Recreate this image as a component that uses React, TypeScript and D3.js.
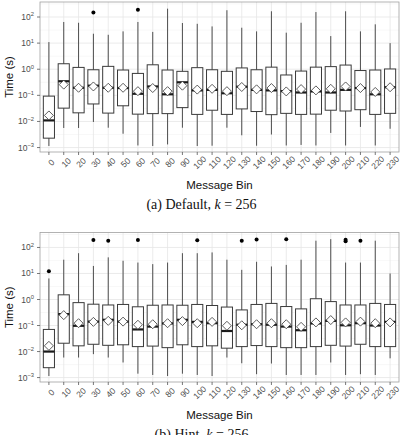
import { useEffect, useRef } from 'react'
import * as d3 from 'd3'

const bins = ['0', '10', '20', '30', '40', '50', '60', '70', '80', '90', '100', '110',
  '120', '130', '140', '150', '160', '170', '180', '190', '200', '210', '220', '230']

// all values are log10(time in s)
const defLow = [-2.94, -2.25, -2.25, -2.02, -2.24, -2.47, -2.92, -2.94, -2.88, -2.24, -2.94, -2.93, -2.24, -2.53, -2.93, -2.5, -2.92, -2.9, -2.92, -2.44, -2.92, -2.21, -2.92, -2.28]
const defQ1 = [-2.64, -1.49, -1.67, -1.33, -1.68, -1.4, -1.72, -1.7, -1.7, -1.47, -1.73, -1.57, -1.73, -1.52, -1.62, -1.74, -1.69, -1.73, -1.72, -1.57, -1.6, -1.55, -1.73, -1.69]
const defMedian = [-1.96, -0.46, -0.71, -0.63, -0.71, -0.72, -0.94, -0.66, -0.96, -0.5, -0.81, -0.79, -0.92, -0.67, -0.79, -0.81, -0.84, -0.89, -0.85, -0.89, -0.79, -0.72, -0.96, -0.69]
const defQ3 = [-1.03, 0.21, 0.07, -0.02, 0.11, -0.03, -0.16, 0.17, -0.03, -0.08, 0.06, -0.02, -0.08, 0.05, -0.02, 0.08, -0.22, -0.07, 0.08, 0.1, 0.16, -0.05, -0.03, 0.01]
const defHigh = [1.04, 1.81, 1.78, 1.36, 1.32, 1.45, 1.81, 1.43, 2.32, 1.77, 1.74, 1.64, 2.26, 1.59, 1.45, 2.22, 1.4, 1.78, 2.19, 1.27, 2.22, 1.45, 1.72, 1.0]
const defMean = [-1.77, -0.59, -0.71, -0.66, -0.71, -0.71, -0.84, -0.72, -0.84, -0.63, -0.78, -0.75, -0.84, -0.68, -0.77, -0.72, -0.85, -0.76, -0.81, -0.75, -0.66, -0.72, -0.87, -0.69]
const defOutliers = [{ bin: '30', v: 2.17 }, { bin: '60', v: 2.28 }]

const hintLow = [-2.94, -2.23, -2.23, -2.1, -2.23, -2.42, -2.85, -2.9, -2.94, -2.85, -2.9, -2.94, -2.23, -2.45, -2.87, -2.46, -2.9, -2.9, -2.9, -2.42, -2.9, -2.87, -2.9, -2.26]
const hintQ1 = [-2.62, -1.68, -1.78, -1.72, -1.76, -1.74, -1.81, -1.79, -1.85, -1.74, -1.81, -1.78, -1.87, -1.81, -1.77, -1.81, -1.85, -1.85, -1.81, -1.76, -1.79, -1.72, -1.81, -1.81]
const hintMedian = [-2.0, -0.56, -1.01, -0.85, -0.78, -0.85, -1.15, -1.04, -0.92, -0.78, -0.86, -0.91, -1.21, -0.97, -0.95, -0.97, -1.04, -1.18, -0.92, -0.82, -0.99, -0.91, -1.0, -0.86]
const hintQ3 = [-1.15, 0.18, -0.12, -0.18, -0.21, -0.19, -0.28, -0.22, -0.21, -0.22, -0.19, -0.23, -0.29, -0.4, -0.19, -0.15, -0.27, -0.36, 0.03, -0.08, -0.21, -0.21, -0.15, -0.19]
const hintHigh = [0.81, 1.53, 1.78, 1.29, 1.62, 1.49, 1.42, 1.36, 1.42, 1.78, 1.78, 1.81, 1.53, 1.14, 1.45, 1.27, 1.33, 1.53, 2.26, 2.32, 1.42, 1.42, 2.26, 1.0]
const hintMean = [-1.78, -0.6, -0.91, -0.86, -0.82, -0.85, -0.97, -0.95, -0.91, -0.83, -0.91, -0.86, -1.01, -0.99, -0.95, -0.91, -0.95, -1.05, -0.88, -0.79, -0.88, -0.85, -0.91, -0.88]
const hintOutliers = [
  { bin: '0', v: 1.09 }, { bin: '30', v: 2.29 }, { bin: '40', v: 2.26 }, { bin: '60', v: 2.29 },
  { bin: '100', v: 2.28 }, { bin: '130', v: 2.26 }, { bin: '140', v: 2.31 }, { bin: '160', v: 2.32 },
  { bin: '200', v: 2.3 }, { bin: '200', v: 2.24 }, { bin: '210', v: 2.26 },
]

const yExponents = [-3, -2, -1, 0, 1, 2]

const sans = '"Liberation Sans", Arial, Helvetica, sans-serif'
const serif = '"Liberation Serif", "Times New Roman", serif'

type Panel = {
  low: number[]; q1: number[]; median: number[]; q3: number[]; high: number[]; mean: number[]
  outliers: { bin: string; v: number }[]
  letter: string; name: string; top: number; bottom: number
}

const panels: Panel[] = [
  { low: defLow, q1: defQ1, median: defMedian, q3: defQ3, high: defHigh, mean: defMean,
    outliers: defOutliers, letter: '(a)', name: 'Default', top: 2, bottom: 152 },
  { low: hintLow, q1: hintQ1, median: hintMedian, q3: hintQ3, high: hintHigh, mean: hintMean,
    outliers: hintOutliers, letter: '(b)', name: 'Hint', top: 232.5, bottom: 382 },
]

const left = 40
const right = 399
const p10 = (e: number) => Math.pow(10, e)

function drawPanel(svg: d3.Selection<SVGSVGElement, unknown, null, undefined>, p: Panel) {
  const x = d3.scalePoint().domain(bins).range([left, right]).padding(0.6)
  const y = d3.scaleLog().domain([p10(-3.17), p10(2.575)]).range([p.bottom, p.top])
  const bw = x.step() * 0.75
  const g = svg.append('g')

  // grid
  g.append('rect')
    .attr('x', left).attr('y', p.top).attr('width', right - left).attr('height', p.bottom - p.top)
    .attr('fill', '#fff')
  g.append('g').selectAll('line')
    .data([-2.5, -1.5, -0.5, 0.5, 1.5, 2.5])
    .join('line')
    .attr('x1', left).attr('x2', right)
    .attr('y1', (e) => y(p10(e))).attr('y2', (e) => y(p10(e)))
    .attr('stroke', '#f3f3f3').attr('stroke-width', 0.6)
  g.append('g').selectAll('line')
    .data(yExponents)
    .join('line')
    .attr('x1', left).attr('x2', right)
    .attr('y1', (e) => y(p10(e))).attr('y2', (e) => y(p10(e)))
    .attr('stroke', '#e6e6e6').attr('stroke-width', 0.8)
  g.append('g').selectAll('line')
    .data(bins)
    .join('line')
    .attr('x1', (b) => x(b)!).attr('x2', (b) => x(b)!)
    .attr('y1', p.top).attr('y2', p.bottom)
    .attr('stroke', '#e6e6e6').attr('stroke-width', 0.8)

  const idx = bins.map((_, i) => i)

  // whiskers
  g.append('g').selectAll('line')
    .data(idx)
    .join('line')
    .attr('x1', (i) => x(bins[i])!).attr('x2', (i) => x(bins[i])!)
    .attr('y1', (i) => y(p10(p.low[i]))).attr('y2', (i) => y(p10(p.high[i])))
    .attr('stroke', '#4d4d4d').attr('stroke-width', 1)

  // boxes
  g.append('g').selectAll('rect')
    .data(idx)
    .join('rect')
    .attr('x', (i) => x(bins[i])! - bw / 2)
    .attr('y', (i) => y(p10(p.q3[i])))
    .attr('width', bw)
    .attr('height', (i) => y(p10(p.q1[i])) - y(p10(p.q3[i])))
    .attr('fill', '#fff').attr('stroke', '#3a3a3a').attr('stroke-width', 1)

  // medians
  g.append('g').selectAll('line')
    .data(idx)
    .join('line')
    .attr('x1', (i) => x(bins[i])! - bw / 2).attr('x2', (i) => x(bins[i])! + bw / 2)
    .attr('y1', (i) => y(p10(p.median[i]))).attr('y2', (i) => y(p10(p.median[i])))
    .attr('stroke', '#1a1a1a').attr('stroke-width', 2.2)

  // outliers
  g.append('g').selectAll('circle')
    .data(p.outliers)
    .join('circle')
    .attr('cx', (d) => x(d.bin)!).attr('cy', (d) => y(p10(d.v)))
    .attr('r', 2).attr('fill', '#000')

  // means
  const r = 4.5
  g.append('g').selectAll('path')
    .data(idx)
    .join('path')
    .attr('d', (i) => {
      const cx = x(bins[i])!
      const cy = y(p10(p.mean[i]))
      return `M${cx},${cy - r}L${cx + r},${cy}L${cx},${cy + r}L${cx - r},${cy}Z`
    })
    .attr('fill', '#fff').attr('stroke', '#333').attr('stroke-width', 0.8)

  // border
  g.append('rect')
    .attr('x', left).attr('y', p.top).attr('width', right - left).attr('height', p.bottom - p.top)
    .attr('fill', 'none').attr('stroke', '#a0a0a0').attr('stroke-width', 0.8)

  // y axis
  const yt = g.append('g')
  yt.selectAll('line')
    .data(yExponents)
    .join('line')
    .attr('x1', left - 3).attr('x2', left)
    .attr('y1', (e) => y(p10(e))).attr('y2', (e) => y(p10(e)))
    .attr('stroke', '#555').attr('stroke-width', 0.8)
  const labels = yt.selectAll('text')
    .data(yExponents)
    .join('text')
    .attr('x', left - 6).attr('y', (e) => y(p10(e)) + 3)
    .attr('text-anchor', 'end')
    .style('font-family', sans).style('fill', '#4d4d4d')
  labels.append('tspan').style('font-size', '8.5px').text('10')
  labels.append('tspan').style('font-size', '5.8px').attr('dy', -3.6).text((e) => String(e).replace('-', '\u2212'))

  // x axis
  const xt = g.append('g')
  xt.selectAll('line')
    .data(bins)
    .join('line')
    .attr('x1', (b) => x(b)!).attr('x2', (b) => x(b)!)
    .attr('y1', p.bottom).attr('y2', p.bottom + 3)
    .attr('stroke', '#555').attr('stroke-width', 0.8)
  xt.selectAll('text')
    .data(bins)
    .join('text')
    .attr('transform', (b) => `translate(${x(b)! + 2.5},${p.bottom + 10.5}) rotate(-45)`)
    .attr('text-anchor', 'middle')
    .attr('dominant-baseline', 'central')
    .style('font-family', sans).style('font-size', '8.5px').style('fill', '#4d4d4d')
    .text((b) => b)

  // titles
  g.append('text')
    .attr('transform', `translate(13,${(p.top + p.bottom) / 2}) rotate(-90)`)
    .attr('text-anchor', 'middle')
    .style('font-family', sans).style('font-size', '11.5px').style('fill', '#111')
    .text('Time (s)')
  g.append('text')
    .attr('x', (left + right) / 2).attr('y', p.bottom + 36.5)
    .attr('text-anchor', 'middle')
    .style('font-family', sans).style('font-size', '11.5px').style('fill', '#111')
    .text('Message Bin')

  const cap = g.append('text')
    .attr('x', 201.5).attr('y', p.bottom + 56.5)
    .attr('text-anchor', 'middle')
    .style('font-family', serif).style('font-size', '14px').style('fill', '#111')
  cap.append('tspan').text(`${p.letter} ${p.name}, `)
  cap.append('tspan').style('font-style', 'italic').text('k')
  cap.append('tspan').text(' = 256')
}

export default function App() {
  const ref = useRef<SVGSVGElement>(null)

  useEffect(() => {
    if (!ref.current) return
    const svg = d3.select(ref.current)
    svg.selectAll('*').remove()
    panels.forEach((p) => drawPanel(svg, p))
  }, [])

  return (
    <svg
      ref={ref}
      width={403}
      height={435}
      style={{ position: 'absolute', left: 0, top: 0, background: '#fff' }}
    />
  )
}
